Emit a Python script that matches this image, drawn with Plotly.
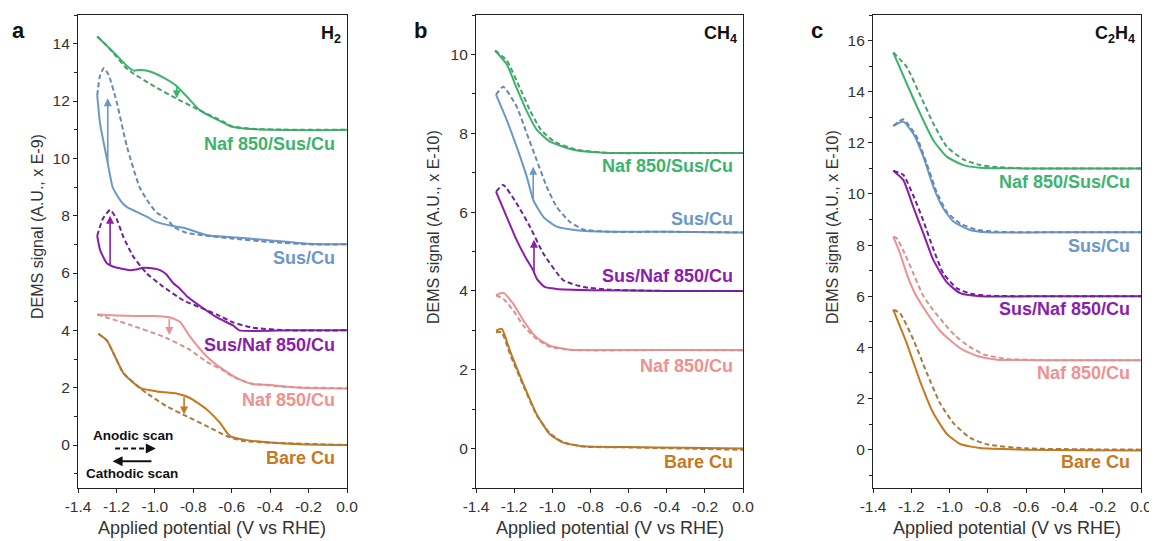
import plotly.graph_objects as go

# ---------------- DATA ----------------
samples = ["Naf 850/Sus/Cu", "Sus/Cu", "Sus/Naf 850/Cu", "Naf 850/Cu", "Bare Cu"]
colors = ["#3cb46e", "#6a98c8", "#8c1cae", "#f09090", "#c8781e"]
dash_colors = ["#4a9f6c", "#6a88b0", "#6a2590", "#d49494", "#a77a3e"]

x_ticks = [-1.4, -1.2, -1.0, -0.8, -0.6, -0.4, -0.2, 0.0]
x_tick_text = ["-1.4", "-1.2", "-1.0", "-0.8", "-0.6", "-0.4", "-0.2", "0.0"]

# Panel a (H2)
a_y_ticks = [0, 2, 4, 6, 8, 10, 12, 14]
a_green_sx = [0, -0.2, -0.4, -0.5, -0.55, -0.6, -0.66, -0.72, -0.77, -0.84, -0.89, -0.95, -1.03, -1.08, -1.11, -1.15, -1.2, -1.25, -1.3]
a_green_sy = [11.0, 10.98, 11.0, 11.02, 11.05, 11.1, 11.3, 11.5, 11.7, 12.2, 12.54, 12.8, 13.04, 13.08, 13.06, 13.25, 13.6, 13.93, 14.25]
a_green_dx = [-1.3, -1.25, -1.2, -1.15, -1.11, -1.0, -0.886, -0.765, -0.65, -0.6, -0.5, -0.3, 0]
a_green_dy = [14.25, 13.93, 13.55, 13.15, 12.95, 12.5, 12.08, 11.67, 11.3, 11.12, 11.03, 11.0, 11.0]
a_blue_sx = [0, -0.2, -0.42, -0.6, -0.73, -0.85, -0.9, -1.0, -1.04, -1.1, -1.145, -1.17, -1.2, -1.22, -1.25, -1.285, -1.3]
a_blue_sy = [7.0, 7.02, 7.15, 7.25, 7.32, 7.58, 7.63, 7.8, 7.96, 8.15, 8.3, 8.45, 8.75, 9.0, 10.0, 11.2, 12.2]
a_blue_dx = [-1.3, -1.285, -1.265, -1.24, -1.2, -1.145, -1.08, -1.04, -0.99, -0.94, -0.9, -0.835, -0.73, -0.6, -0.4, -0.2, 0]
a_blue_dy = [12.2, 12.9, 13.15, 12.9, 12.0, 10.4, 9.0, 8.54, 8.1, 7.9, 7.6, 7.4, 7.3, 7.2, 7.08, 7.0, 7.0]
a_purple_sx = [0, -0.3, -0.56, -0.593, -0.677, -0.765, -0.835, -0.87, -0.905, -0.94, -0.973, -1.0, -1.06, -1.1, -1.13, -1.216, -1.25, -1.285, -1.3]
a_purple_sy = [4.0, 4.0, 4.0, 4.17, 4.45, 4.85, 5.2, 5.45, 5.65, 5.95, 6.1, 6.15, 6.18, 6.12, 6.1, 6.22, 6.34, 6.8, 7.3]
a_purple_dx = [-1.3, -1.27, -1.233, -1.2, -1.164, -1.112, -1.043, -0.956, -0.853, -0.765, -0.677, -0.593, -0.5, -0.3, 0]
a_purple_dy = [7.3, 7.9, 8.2, 7.9, 7.26, 6.57, 5.99, 5.52, 5.05, 4.8, 4.55, 4.28, 4.1, 4.0, 4.0]
a_pink_sx = [0, -0.24, -0.416, -0.49, -0.557, -0.644, -0.73, -0.817, -0.87, -0.92, -1.0, -1.1, -1.2, -1.3]
a_pink_sy = [1.97, 2.0, 2.1, 2.12, 2.28, 2.63, 3.09, 3.78, 4.3, 4.45, 4.5, 4.5, 4.52, 4.55]
a_pink_dx = [-1.3, -1.129, -0.956, -0.817, -0.73, -0.644, -0.6, -0.5, -0.3, 0]
a_pink_dy = [4.55, 4.19, 3.78, 3.32, 2.9, 2.6, 2.4, 2.15, 2.02, 1.98]
a_brown_sx = [0, -0.24, -0.416, -0.522, -0.609, -0.661, -0.73, -0.817, -0.887, -0.99, -1.077, -1.164, -1.216, -1.25, -1.294]
a_brown_sy = [0.0, 0.03, 0.1, 0.17, 0.31, 0.77, 1.24, 1.64, 1.8, 1.87, 1.99, 2.51, 3.21, 3.65, 3.88]
a_brown_dx = [-1.294, -1.25, -1.216, -1.164, -1.077, -1.043, -0.939, -0.834, -0.73, -0.626, -0.55, -0.4, 0]
a_brown_dy = [3.88, 3.65, 3.21, 2.51, 1.99, 1.81, 1.35, 1.0, 0.66, 0.31, 0.15, 0.08, 0.0]
a_arrow_x = [-0.886, -1.245, -1.233, -0.925, -0.848]
a_arrow_from = [12.55, 9.8, 6.2, 4.45, 1.72]
a_arrow_to = [12.1, 12.1, 8.0, 3.84, 1.06]
a_label_y = [10.49, 6.52, 3.5, 1.58, -0.47]

# Panel b (CH4)
b_y_ticks = [0, 2, 4, 6, 8, 10]
b_green_sx = [-1.3, -1.239, -1.187, -1.134, -1.082, -1.012, -0.89, -0.715, -0.4, 0]
b_green_sy = [10.1, 9.75, 9.15, 8.56, 8.09, 7.79, 7.58, 7.5, 7.5, 7.5]
b_green_dx = [-1.3, -1.239, -1.17, -1.115, -1.06, -0.99, -0.87, -0.7, -0.4, 0]
b_green_dy = [10.1, 9.85, 9.15, 8.56, 8.09, 7.79, 7.58, 7.5, 7.5, 7.5]
b_blue_sx = [-1.295, -1.239, -1.187, -1.134, -1.099, -1.047, -0.977, -0.872, -0.7, -0.4, 0]
b_blue_sy = [8.98, 8.34, 7.66, 6.9, 6.3, 5.88, 5.63, 5.54, 5.5, 5.5, 5.48]
b_blue_dx = [-1.295, -1.257, -1.187, -1.134, -1.082, -1.029, -0.977, -0.907, -0.837, -0.7, -0.4, 0]
b_blue_dy = [8.98, 9.18, 8.68, 8.0, 7.32, 6.64, 6.13, 5.75, 5.56, 5.5, 5.5, 5.48]
b_purple_sx = [-1.295, -1.239, -1.187, -1.14, -1.1, -1.08, -1.04, -0.977, -0.8, -0.4, 0]
b_purple_sy = [6.52, 5.88, 5.29, 4.85, 4.52, 4.3, 4.1, 4.05, 4.02, 4.0, 4.0]
b_purple_dx = [-1.295, -1.257, -1.187, -1.117, -1.047, -0.942, -0.837, -0.7, -0.4, 0]
b_purple_dy = [6.52, 6.69, 6.22, 5.63, 4.95, 4.27, 4.1, 4.03, 4.0, 4.0]
b_pink_sx = [-1.295, -1.257, -1.204, -1.152, -1.082, -1.012, -0.907, -0.7, -0.4, 0]
b_pink_sy = [3.89, 3.95, 3.67, 3.25, 2.82, 2.61, 2.51, 2.5, 2.5, 2.5]
b_pink_dx = [-1.295, -1.257, -1.204, -1.152, -1.082, -1.012, -0.9, -0.7, -0.4, 0]
b_pink_dy = [3.89, 3.8, 3.5, 3.12, 2.78, 2.58, 2.5, 2.49, 2.5, 2.49]
b_brown_sx = [-1.295, -1.265, -1.222, -1.152, -1.082, -1.012, -0.942, -0.837, -0.6, -0.3, 0]
b_brown_sy = [2.99, 3.04, 2.48, 1.64, 0.87, 0.36, 0.15, 0.06, 0.04, 0.02, 0.0]
b_brown_dx = [-1.295, -1.265, -1.222, -1.152, -1.082, -1.012, -0.942, -0.837, -0.6, -0.3, 0]
b_brown_dy = [2.95, 2.95, 2.4, 1.6, 0.85, 0.38, 0.16, 0.05, 0.03, 0.0, -0.03]
b_arrow_x = [None, -1.1, -1.096, None, None]
b_arrow_from = [None, 6.3, 4.4, None, None]
b_arrow_to = [None, 7.15, 5.3, None, None]
b_label_y = [7.18, 5.82, 4.39, 2.1, -0.34]

# Panel c (C2H4)
c_y_ticks = [0, 2, 4, 6, 8, 10, 12, 14, 16]
c_green_sx = [-1.294, -1.224, -1.154, -1.085, -1.015, -0.928, -0.841, -0.6, -0.3, 0]
c_green_sy = [15.53, 14.32, 13.15, 12.1, 11.46, 11.13, 11.03, 11.0, 11.0, 11.0]
c_green_dx = [-1.294, -1.224, -1.154, -1.085, -1.015, -0.928, -0.841, -0.75, -0.6, 0]
c_green_dy = [15.53, 14.97, 13.87, 12.76, 11.85, 11.35, 11.13, 11.05, 11.0, 11.0]
c_blue_sx = [-1.294, -1.242, -1.19, -1.137, -1.085, -1.033, -0.98, -0.893, -0.806, -0.5, 0]
c_blue_sy = [12.66, 12.83, 12.37, 11.46, 10.29, 9.44, 8.92, 8.59, 8.5, 8.5, 8.5]
c_blue_dx = [-1.294, -1.242, -1.172, -1.12, -1.068, -1.015, -0.945, -0.858, -0.75, -0.5, 0]
c_blue_dy = [12.66, 12.92, 12.24, 11.2, 10.09, 9.31, 8.85, 8.6, 8.52, 8.5, 8.5]
c_purple_sx = [-1.294, -1.242, -1.19, -1.137, -1.085, -1.015, -0.945, -0.841, -0.5, 0]
c_purple_sy = [10.91, 10.55, 9.5, 8.46, 7.42, 6.55, 6.12, 6.0, 6.0, 6.0]
c_purple_dx = [-1.294, -1.242, -1.19, -1.137, -1.085, -1.033, -0.963, -0.89, -0.8, -0.5, 0]
c_purple_dy = [10.91, 10.75, 9.95, 8.95, 7.85, 6.9, 6.32, 6.1, 6.02, 6.0, 6.0]
c_pink_sx = [-1.294, -1.26, -1.22, -1.18, -1.14, -1.1, -1.05, -1.0, -0.93, -0.85, -0.75, -0.5, 0]
c_pink_sy = [8.33, 7.7, 6.8, 6.1, 5.6, 5.15, 4.65, 4.3, 3.9, 3.65, 3.52, 3.5, 3.5]
c_pink_dx = [-1.294, -1.276, -1.23, -1.19, -1.14, -1.09, -1.03, -0.97, -0.9, -0.82, -0.7, -0.5, 0]
c_pink_dy = [8.33, 8.27, 7.6, 6.9, 6.05, 5.5, 4.95, 4.45, 4.05, 3.72, 3.55, 3.5, 3.5]
c_brown_sx = [-1.294, -1.224, -1.154, -1.085, -1.015, -0.945, -0.841, -0.6, -0.3, 0]
c_brown_sy = [5.47, 4.17, 2.67, 1.43, 0.62, 0.22, 0.06, 0.0, -0.02, -0.03]
c_brown_dx = [-1.294, -1.259, -1.189, -1.119, -1.05, -0.98, -0.893, -0.8, -0.6, 0]
c_brown_dy = [5.47, 5.34, 4.3, 3.0, 1.82, 1.04, 0.46, 0.2, 0.05, 0.0]
c_label_y = [10.48, 7.98, 5.49, 3.0, -0.5]

panel_letters = ["a", "b", "c"]
gas_labels = ["H<sub>2</sub>", "CH<sub>4</sub>", "C<sub>2</sub>H<sub>4</sub>"]
y_titles = ["DEMS signal (A.U., x E-9)", "DEMS signal (A.U., x E-10)", "DEMS signal (A.U., x E-10)"]
x_title = "Applied potential (V vs RHE)"
legend_texts = ["Anodic scan", "Cathodic scan"]

# ---------------- FIGURE ----------------
# The page body has an 8 px margin, so the figure is drawn 8 px in from the window corner.
OFF = 8
W, H = 1157 - OFF, 541 - OFF
FONT = "Arial, Liberation Sans, sans-serif"
fig = go.Figure()


def px_x(px):
    return (px - OFF) / W


def px_y(py):
    return (H - (py - OFF)) / H


panels = [
    dict(series=[(a_green_sx, a_green_sy, a_green_dx, a_green_dy), (a_blue_sx, a_blue_sy, a_blue_dx, a_blue_dy),
                 (a_purple_sx, a_purple_sy, a_purple_dx, a_purple_dy), (a_pink_sx, a_pink_sy, a_pink_dx, a_pink_dy),
                 (a_brown_sx, a_brown_sy, a_brown_dx, a_brown_dy)],
         yrange=[-1.5, 15], yticks=a_y_ticks, labels=a_label_y, arrows=(a_arrow_x, a_arrow_from, a_arrow_to),
         px=(78, 347), ytitle_x=37, letter_x=18, label_xr=-0.052),
    dict(series=[(b_green_sx, b_green_sy, b_green_dx, b_green_dy), (b_blue_sx, b_blue_sy, b_blue_dx, b_blue_dy),
                 (b_purple_sx, b_purple_sy, b_purple_dx, b_purple_dy), (b_pink_sx, b_pink_sy, b_pink_dx, b_pink_dy),
                 (b_brown_sx, b_brown_sy, b_brown_dx, b_brown_dy)],
         yrange=[-1, 11], yticks=b_y_ticks, labels=b_label_y, arrows=(b_arrow_x, b_arrow_from, b_arrow_to),
         px=(476, 743), ytitle_x=433, letter_x=420, label_xr=-0.042),
    dict(series=[(c_green_sx, c_green_sy, c_green_dx, c_green_dy), (c_blue_sx, c_blue_sy, c_blue_dx, c_blue_dy),
                 (c_purple_sx, c_purple_sy, c_purple_dx, c_purple_dy), (c_pink_sx, c_pink_sy, c_pink_dx, c_pink_dy),
                 (c_brown_sx, c_brown_sy, c_brown_dx, c_brown_dy)],
         yrange=[-1.5, 17], yticks=c_y_ticks, labels=c_label_y, arrows=None,
         px=(873, 1141), ytitle_x=832, letter_x=817, label_xr=-0.047),
]

top_px, bot_px = 15, 488
ydom = [px_y(bot_px), px_y(top_px)]
annotations = []

for i, p in enumerate(panels):
    n = "" if i == 0 else str(i + 1)
    xa, ya = "x" + n, "y" + n
    for k, (sx, sy, dx, dy) in enumerate(p["series"]):
        fig.add_trace(go.Scatter(x=sx, y=sy, mode="lines", xaxis=xa, yaxis=ya, showlegend=False,
                                 line=dict(color=colors[k], width=2, shape="spline", smoothing=0.5)))
        fig.add_trace(go.Scatter(x=dx, y=dy, mode="lines", xaxis=xa, yaxis=ya, showlegend=False,
                                 line=dict(color=dash_colors[k], width=2, dash="5px,3px", shape="spline", smoothing=0.5)))
        annotations.append(dict(x=p["label_xr"], y=p["labels"][k], xref=xa, yref=ya, text="<b>%s</b>" % samples[k],
                                showarrow=False, xanchor="right", yanchor="middle",
                                font=dict(family=FONT, size=18, color=colors[k])))
    if p["arrows"]:
        ax_, af, at = p["arrows"]
        for k in range(len(ax_)):
            if ax_[k] is None:
                continue
            annotations.append(dict(x=ax_[k], y=at[k], ax=ax_[k], ay=af[k], xref=xa, yref=ya, axref=xa, ayref=ya,
                                    showarrow=True, arrowhead=2, arrowsize=1, arrowwidth=1.6, arrowcolor=colors[k], text=""))
    xd = [px_x(p["px"][0]), px_x(p["px"][1])]
    axis_common = dict(showline=True, linecolor="#222", linewidth=1.2, mirror=True, ticks="outside",
                       ticklen=4, tickwidth=1, tickcolor="#222", showgrid=False, zeroline=False, automargin=False,
                       tickfont=dict(family=FONT, size=15.5, color="#333"))
    fig.layout["xaxis" + n] = dict(domain=xd, range=[-1.4, 0], tickvals=x_ticks, ticktext=x_tick_text,
                                   anchor=ya, **axis_common)
    fig.layout["yaxis" + n] = dict(domain=ydom, range=p["yrange"], tickvals=p["yticks"], anchor=xa,
                                   minor=dict(dtick=1, ticks="outside", ticklen=3, tickcolor="#222", showgrid=False),
                                   **axis_common)
    # titles
    annotations.append(dict(x=px_x(p["ytitle_x"]), y=px_y(227), xref="paper", yref="paper",
                            text=y_titles[i], textangle=-90, showarrow=False, xanchor="center", yanchor="middle",
                            font=dict(family=FONT, size=16, color="#333")))
    annotations.append(dict(x=(xd[0] + xd[1]) / 2, y=px_y(528), xref="paper", yref="paper", text=x_title,
                            showarrow=False, xanchor="center", yanchor="middle",
                            font=dict(family=FONT, size=18, color="#333")))
    annotations.append(dict(x=px_x(p["letter_x"]), y=px_y(30), xref="paper", yref="paper",
                            text="<b>%s</b>" % panel_letters[i], showarrow=False, xanchor="center", yanchor="middle",
                            font=dict(family=FONT, size=22, color="#111")))
    annotations.append(dict(x=-0.02, y=px_y(34), xref=xa, yref="paper", text="<b>%s</b>" % gas_labels[i],
                            showarrow=False, xanchor="right", yanchor="middle",
                            font=dict(family=FONT, size=18, color="#111")))

# scan-direction legend in panel a
annotations.append(dict(x=-1.114, y=0.33, xref="x", yref="y", text="<b>%s</b>" % legend_texts[0], showarrow=False,
                        xanchor="center", yanchor="middle", font=dict(family=FONT, size=13.5, color="#111")))
annotations.append(dict(x=-1.12, y=-0.99, xref="x", yref="y", text="<b>%s</b>" % legend_texts[1], showarrow=False,
                        xanchor="center", yanchor="middle", font=dict(family=FONT, size=13.5, color="#111")))
fig.add_trace(go.Scatter(x=[-1.207, -1.02], y=[-0.12, -0.12], mode="lines", xaxis="x", yaxis="y", showlegend=False,
                         line=dict(color="#111", width=2, dash="5px,3px")))
annotations.append(dict(x=-0.995, y=-0.12, ax=-1.03, ay=-0.12, xref="x", yref="y", axref="x", ayref="y",
                        showarrow=True, arrowhead=2, arrowsize=1, arrowwidth=2, arrowcolor="#111", text=""))
annotations.append(dict(x=-1.22, y=-0.57, ax=-1.01, ay=-0.57, xref="x", yref="y", axref="x", ayref="y",
                        showarrow=True, arrowhead=2, arrowsize=1, arrowwidth=2, arrowcolor="#111", text=""))

fig.update_layout(width=W, height=H, margin=dict(l=0, r=0, t=0, b=0), plot_bgcolor="white",
                  paper_bgcolor="white", annotations=annotations, showlegend=False)
fig.write_html("out.html")
